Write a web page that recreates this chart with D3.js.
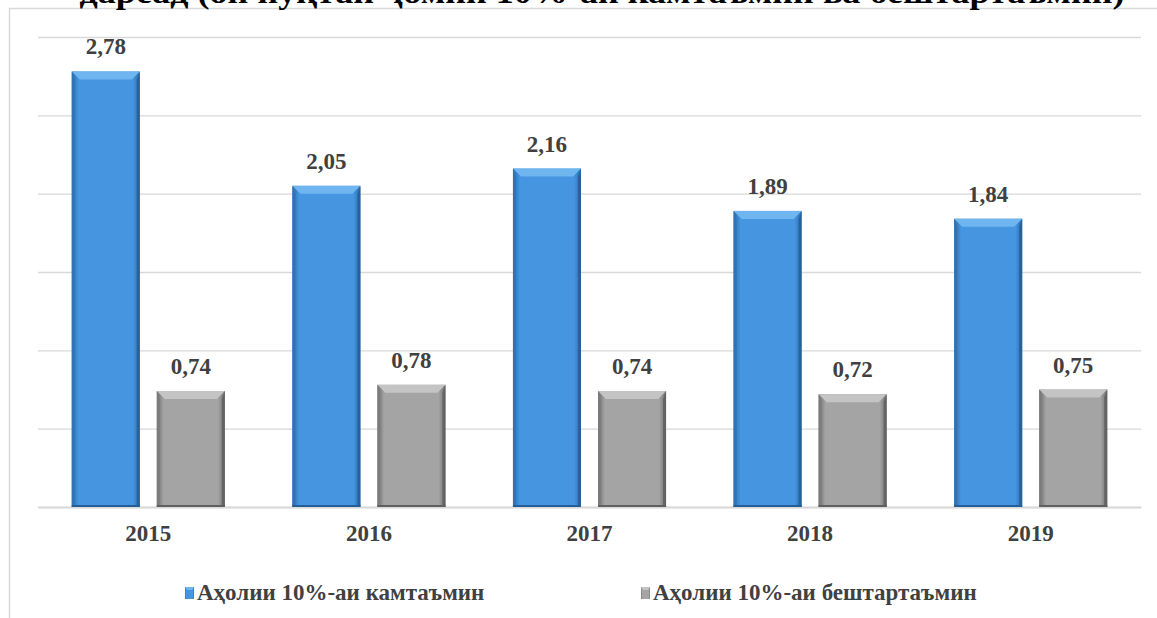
<!DOCTYPE html>
<html>
<head>
<meta charset="utf-8">
<script src="https://cdn.jsdelivr.net/npm/d3@7"></script>
<style>
  body { margin: 0; background: #fff; }
  svg { display: block; }
  text { font-family: 'Liberation Serif', 'DejaVu Serif', serif; font-weight: bold; }
</style>
</head>
<body>
<script>
// chart data
const years = ["2015", "2016", "2017", "2018", "2019"];
const seriesNames = ["Аҳолии 10%-аи камтаъмин", "Аҳолии 10%-аи бештартаъмин"];
const poorValues = [2.78, 2.05, 2.16, 1.89, 1.84];
const richValues = [0.74, 0.78, 0.74, 0.72, 0.75];
const yTicks = [0, 0.5, 1, 1.5, 2, 2.5, 3];
const titleText = "дарсад (он нуқтаи ҷомии 10%-аи камтаъмин ва бештартаъмин)";

const W = 1157, H = 618;
const margin = { top: 37, right: 16, bottom: 111, left: 38 };
const width = W - margin.left - margin.right;
const height = H - margin.top - margin.bottom;

const svg = d3.select("body").append("svg")
  .attr("width", W)
  .attr("height", H);

const defs = svg.append("defs");

// horizontal shading for the bars
function grad(id, edge, mid) {
  const g = defs.append("linearGradient").attr("id", id)
    .attr("x1", "0%").attr("x2", "100%").attr("y1", "0%").attr("y2", "0%");
  g.append("stop").attr("offset", "0%").attr("stop-color", edge);
  g.append("stop").attr("offset", "10%").attr("stop-color", mid);
  g.append("stop").attr("offset", "90%").attr("stop-color", mid);
  g.append("stop").attr("offset", "100%").attr("stop-color", edge);
}
grad("gBlue", "#2b6cab", "#4595e0");
grad("gGray", "#6e6e6e", "#a4a4a4");

const colors = [
  { fill: "url(#gBlue)", top: "#6fb6f0", side: "#2f73b4", bottom: "#245e96" },
  { fill: "url(#gGray)", top: "#c4c4c4", side: "#7c7c7c", bottom: "#5f5f5f" }
];

// frame of the chart area
svg.append("path")
  .attr("d", `M9.5,${H} V8.5 H${W}`)
  .attr("fill", "none")
  .attr("stroke", "#d9d9d9")
  .attr("stroke-width", 1.5);

// title (cut off at the top edge, as in the source)
svg.append("text")
  .attr("x", 602)
  .attr("y", 3)
  .attr("text-anchor", "middle")
  .attr("font-size", 32)
  .attr("textLength", 1045)
  .attr("lengthAdjust", "spacingAndGlyphs")
  .attr("fill", "#000")
  .text(titleText);

const g = svg.append("g")
  .attr("transform", `translate(${margin.left},${margin.top})`);

const x0 = d3.scaleBand().domain(years).range([0, width]).padding(0);
const x1 = d3.scaleBand().domain([0, 1])
  .range([x0.bandwidth() * 0.153, x0.bandwidth() * 0.847])
  .paddingInner(0.2);
const y = d3.scaleLinear().domain([0, 3]).range([height, 0]);

// gridlines
g.append("g")
  .call(d3.axisLeft(y).tickValues(yTicks).tickSize(-width).tickFormat(""))
  .call(s => s.select(".domain").remove())
  .call(s => s.selectAll("line").attr("stroke", "#d9d9d9").attr("stroke-width", 1.3));

// x axis
g.append("g")
  .attr("transform", `translate(0,${height})`)
  .call(d3.axisBottom(x0).tickSize(0).tickPadding(18))
  .call(s => s.select(".domain").attr("stroke", "#d9d9d9").attr("stroke-width", 2))
  .call(s => s.selectAll("text")
    .attr("font-family", null)
    .attr("font-size", 23)
    .attr("fill", "#404040"));

const rows = years.map((yr, i) => ({ year: yr, vals: [poorValues[i], richValues[i]] }));

const groups = g.selectAll(".grp").data(rows).enter().append("g")
  .attr("class", "grp")
  .attr("transform", d => `translate(${x0(d.year)},0)`);

const bars = groups.selectAll(".bar")
  .data(d => d.vals.map((v, k) => ({ v, k })))
  .enter().append("g").attr("class", "bar");

const bev = 8;
bars.each(function (d) {
  const b = d3.select(this);
  const bx = x1(d.k), bw = x1.bandwidth();
  const by = y(d.v), bh = height - by;
  const c = colors[d.k];
  b.append("rect").attr("x", bx).attr("y", by).attr("width", bw).attr("height", bh)
    .attr("fill", c.fill);
  // top bevel
  b.append("path")
    .attr("d", `M${bx},${by} H${bx + bw} L${bx + bw - bev},${by + bev} H${bx + bev} Z`)
    .attr("fill", c.top);
  // side bevels
  b.append("path")
    .attr("d", `M${bx},${by} L${bx + 3},${by + bev} V${height - 2} L${bx},${height} Z`)
    .attr("fill", c.side).attr("opacity", 0.85);
  b.append("path")
    .attr("d", `M${bx + bw},${by} L${bx + bw - 3},${by + bev} V${height - 2} L${bx + bw},${height} Z`)
    .attr("fill", c.bottom).attr("opacity", 0.85);
  b.append("rect").attr("x", bx).attr("y", height - 2).attr("width", bw).attr("height", 2)
    .attr("fill", c.bottom);
  // value label
  b.append("text")
    .attr("x", bx + bw / 2)
    .attr("y", by - 17)
    .attr("text-anchor", "middle")
    .attr("font-size", 23)
    .attr("fill", "#404040")
    .text(d3.format(".2f")(d.v).replace(".", ","));
});

// legend
const legendX = [185, 641];
const legend = svg.selectAll(".leg").data(seriesNames).enter().append("g")
  .attr("class", "leg")
  .attr("transform", (d, i) => `translate(${legendX[i]},585)`);

legend.append("rect")
  .attr("width", 9).attr("height", 12).attr("y", 2)
  .attr("fill", (d, i) => colors[i].fill);
legend.append("path")
  .attr("d", "M0,2 H9 L7,5 H2 Z")
  .attr("fill", (d, i) => colors[i].top);

legend.append("text")
  .attr("x", 12)
  .attr("y", 15)
  .attr("font-size", 23)
  .attr("fill", "#404040")
  .text(d => d);
</script>
</body>
</html>
